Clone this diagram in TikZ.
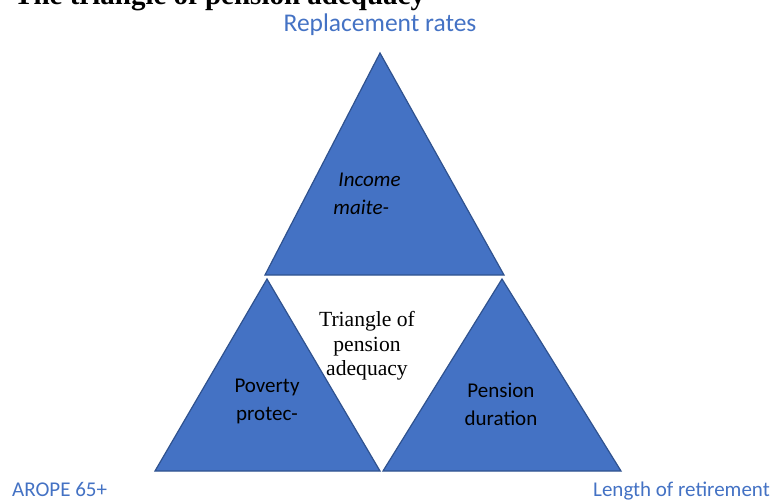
\documentclass[tikz,border=0pt]{standalone}
\usepackage{fontspec}
\setmainfont{Liberation Serif}
\newfontfamily\calibri{Carlito}
\usepackage{tikz}

\definecolor{accentblue}{HTML}{4472C4}
\definecolor{edgeblue}{HTML}{2F528F}

\tikzset{
  part/.style={fill=accentblue, draw=edgeblue, line width=1.2pt, line join=miter},
  partlabel/.style={font=\calibri\fontsize{21}{28}\selectfont, align=center, text=black},
  corner/.style={font=\calibri\fontsize{21}{25}\selectfont, text=accentblue, inner sep=0pt},
}

\begin{document}
\begin{tikzpicture}[x=1pt, y=-1pt]
  \useasboundingbox (0,0) rectangle (772,500);
  \clip (0,0) rectangle (772,500);

  % caption line running off the top edge
  \node[font=\bfseries\fontsize{29}{32}\selectfont, anchor=base west, inner sep=0pt] (caption) at (14,5) {The triangle of pension adequacy};

  % the three parts
  \coordinate (t1) at (380,53);
  \coordinate (t2) at (265,275);
  \coordinate (t3) at (504,275);
  \draw[part] (t1) -- (t2) -- (t3) -- cycle;

  \coordinate (l1) at (267,279);
  \coordinate (l2) at (155,471);
  \coordinate (l3) at (380,471);
  \draw[part] (l1) -- (l2) -- (l3) -- cycle;

  \coordinate (r1) at (502,279);
  \coordinate (r2) at (383,471);
  \coordinate (r3) at (621,471);
  \draw[part] (r1) -- (r2) -- (r3) -- cycle;

  % texts inside
  \node[partlabel, align=left, font=\calibri\itshape\fontsize{21}{28}\selectfont] (income) at (367,194) {\hspace{5pt}Income\\maite-};
  \node[partlabel] (poverty) at (267,401) {Poverty\\protec-};
  \node[partlabel] (duration) at (501,404) {Pension\\duration};
  \node[align=center, font=\fontsize{21.6}{24.5}\selectfont] (adequacy) at (367,346) {Triangle of\\pension\\adequacy};

  % indicators at the corners
  \node[corner, anchor=base, font=\calibri\fontsize{25.5}{30}\selectfont] (repl) at (380,32) {Replacement rates};
  \node[corner, anchor=base west] (arope) at (12,496) {AROPE 65+};
  \node[corner, anchor=base east] (length) at (770,496) {Length of retirement};
\end{tikzpicture}
\end{document}
